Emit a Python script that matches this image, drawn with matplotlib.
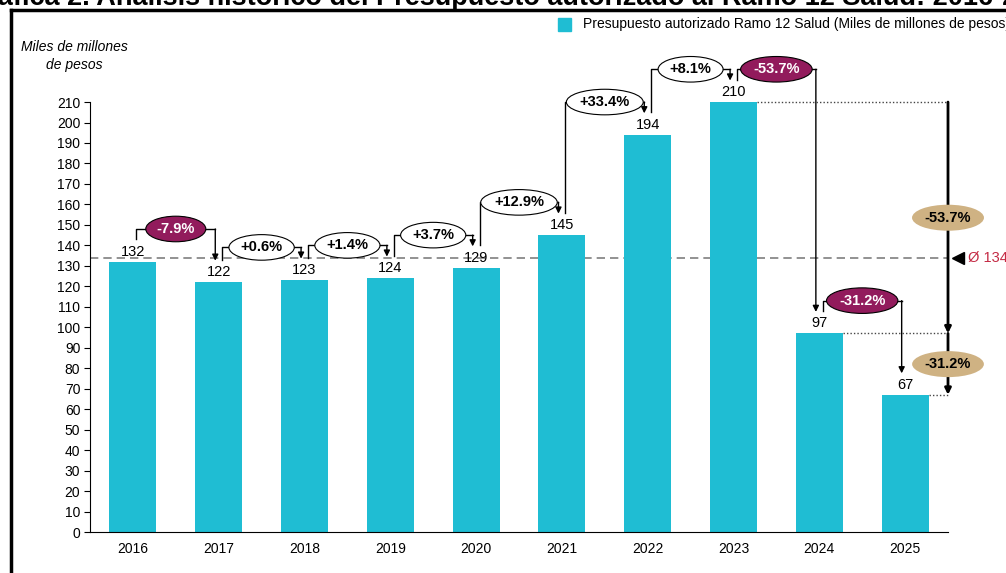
"""
Presupuesto autorizado Ramo 12 Salud, 2016-2025.
"""

import matplotlib.pyplot as plt
import numpy as np
from matplotlib.lines import Line2D
from matplotlib.patches import Rectangle

years = ['2016', '2017', '2018', '2019', '2020', '2021', '2022', '2023', '2024', '2025']
budget = [132, 122, 123, 124, 129, 145, 194, 210, 97, 67]
changes = ['-7.9%', '+0.6%', '+1.4%', '+3.7%', '+12.9%', '+33.4%', '+8.1%', '-53.7%', '-31.2%']
average = 134
span_labels = ['-53.7%', '-31.2%']  # 2023->2024 and 2024->2025 on the right side

BAR = '#1FBDD3'
MAROON = '#921B5C'
TAN = '#CFB283'
RED = '#C42A44'

plt.rcParams['font.family'] = ['Liberation Sans', 'DejaVu Sans']
NARROW = ['Liberation Sans Narrow', 'Liberation Sans', 'DejaVu Sans']

W, H = 1006, 573
fig = plt.figure(figsize=(W / 100, H / 100), dpi=100)
ax = fig.add_axes([90 / W, 41 / H, 858 / W, 475 / H])

x = np.arange(len(years))
ax.bar(x, budget, width=0.55, color=BAR, zorder=2)
ax.set_xlim(-0.5, 9.5)
ax.set_ylim(0, 232)
ax.set_xticks(x, years)
ax.set_yticks(range(0, 211, 10))
ax.spines[['top', 'right']].set_visible(False)
ax.spines['left'].set_bounds(0, 210)
ax.tick_params(axis='x', length=0, pad=7)
ax.tick_params(axis='y', length=4, pad=3)
for lab in ax.get_xticklabels() + ax.get_yticklabels():
    lab.set_family(NARROW)
    lab.set_fontsize(10)

# value labels
for xi, v in zip(x, budget):
    ax.text(xi, v + 5, str(v), ha='center', va='center', fontsize=10.5, zorder=3)

# average line
ax.axhline(average, color='#7F7F7F', lw=1.2, ls=(0, (5, 3)), zorder=1)
ax.plot(9.62, average, marker='<', color='black', ms=8, clip_on=False)
ax.text(9.73, average, f'Ø {average}', color=RED, va='center', fontsize=10.5,
        clip_on=False)

# year over year connectors
arrow = dict(arrowstyle='-|>', color='black', lw=1, mutation_scale=9,
             shrinkA=0, shrinkB=0)
for i, lab in enumerate(changes):
    a, b = budget[i], budget[i + 1]
    level = max(a, b) + 16
    x0, x1 = i + 0.04, i + 1 - 0.04
    ax.plot([x0, x0, x1], [a + 11, level, level], color='black', lw=1, zorder=3)
    ax.annotate('', xy=(x1, b + 10.5), xytext=(x1, level), arrowprops=arrow,
                zorder=3)
    neg = lab.startswith('-')
    ax.text((x0 + x1) / 2, level, lab, ha='center', va='center', fontsize=10.5,
            fontweight='bold', color='white' if neg else 'black', zorder=4,
            bbox=dict(boxstyle='ellipse,pad=0.14', fc=MAROON if neg else 'white',
                      ec='black', lw=0.8))

# right side total drop
xr = 9.5
for i in (7, 8, 9):
    ax.plot([i + 0.275, xr], [budget[i], budget[i]], ls=(0, (1, 1.5)),
            color='#444444', lw=1, clip_on=False, zorder=3)
thick = dict(arrowstyle='-|>', color='black', lw=2, mutation_scale=9,
             shrinkA=0, shrinkB=0)
for (top, bottom), lab in zip([(210, 97), (97, 67)], span_labels):
    ax.annotate('', xy=(xr, bottom), xytext=(xr, top), arrowprops=thick,
                annotation_clip=False, zorder=3)
    ax.text(xr, (top + bottom) / 2, lab, ha='center', va='center', fontsize=10.5,
            fontweight='bold', zorder=4, clip_on=False,
            bbox=dict(boxstyle='ellipse,pad=0.15', fc=TAN, ec='none'))

# axis caption
fig.text(74 / W, 1 - 47 / H, 'Miles de millones', ha='center', va='center',
         style='italic', fontsize=10)
fig.text(74 / W, 1 - 65 / H, 'de pesos', ha='center', va='center',
         style='italic', fontsize=10)

# legend
fig.add_artist(Rectangle((558 / W, 1 - 31 / H), 13 / W, 13 / H,
                         transform=fig.transFigure, color=BAR))
fig.text(583 / W, 1 - 24 / H,
         'Presupuesto autorizado Ramo 12 Salud (Miles de millones de pesos)',
         va='center', fontsize=10, family=NARROW)

# frame and clipped title
fig.add_artist(Line2D([11 / W, 11 / W], [0, 1 - 10 / H], color='black', lw=2.5,
                      transform=fig.transFigure))
fig.add_artist(Line2D([11 / W, 1], [1 - 10 / H, 1 - 10 / H], color='black', lw=2.5,
                      transform=fig.transFigure))
fig.text(-34 / W, 1 - 5 / H,
         'Gráfica 2. Análisis histórico del Presupuesto autorizado al Ramo 12 Salud: 2016-2025',
         va='baseline', ha='left', fontsize=19.5, fontweight='bold')

fig.savefig('out.png', dpi=100)
